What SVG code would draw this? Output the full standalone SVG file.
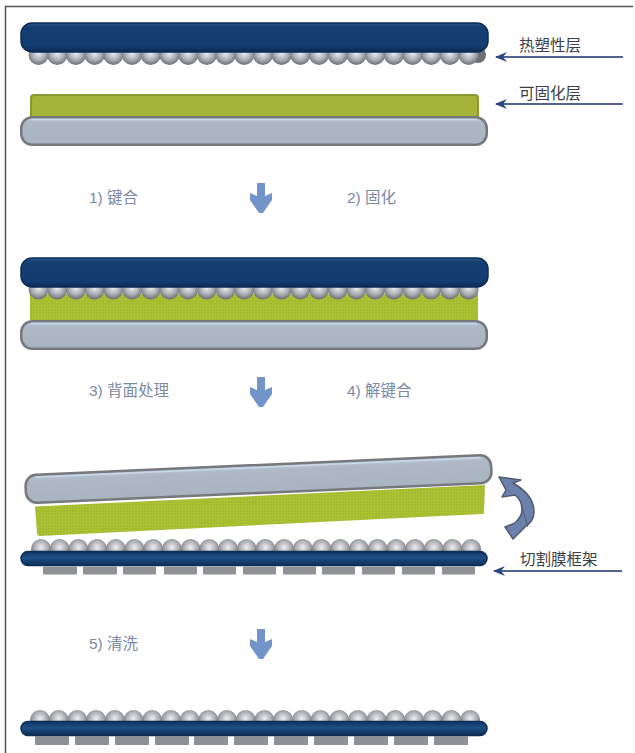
<svg xmlns="http://www.w3.org/2000/svg" width="635" height="753" viewBox="0 0 635 753">
<style>
text{font-family:"Liberation Sans","Noto Sans CJK SC",sans-serif;font-size:15.5px}
.step{fill:#7c89a4}
.lab{fill:#3a4046}
.lead{stroke:#52648f;stroke-width:2;fill:none;marker-start:url(#head)}
.navy{fill:url(#navy);stroke:#0c2d57;stroke-width:1.5}
.thin{fill:url(#navyThin);stroke:#0c2d57;stroke-width:1.5}
.carrier{fill:url(#grey);stroke:#75787d;stroke-width:2.5}
.shine{stroke:#c9d7e6;stroke-width:1.5;fill:none}
.film{fill:url(#speckle)}
.cured{fill:#a2b538;stroke:#8b9a2e;stroke-width:2}
.chip{fill:#8f9196}
</style>
<defs>
<marker id="head" viewBox="0 0 12 10" refX="11" refY="5" markerWidth="12" markerHeight="10" markerUnits="userSpaceOnUse" orient="auto-start-reverse"><path d="M12 5L0 0L4 5L0 10Z" fill="#2a4585"/></marker>
<linearGradient id="navy" x1="0" y1="0" x2="0" y2="1"><stop offset="0" stop-color="#2a5382"/><stop offset=".15" stop-color="#143f73"/><stop offset=".8" stop-color="#133c70"/><stop offset="1" stop-color="#0b2a52"/></linearGradient>
<linearGradient id="navyThin" x1="0" y1="0" x2="0" y2="1"><stop offset="0" stop-color="#0f3361"/><stop offset=".45" stop-color="#1f4f85"/><stop offset="1" stop-color="#0c2d57"/></linearGradient>
<linearGradient id="grey" x1="0" y1="0" x2="0" y2="1"><stop offset="0" stop-color="#bccad8"/><stop offset=".2" stop-color="#aeb9c5"/><stop offset="1" stop-color="#aab4c0"/></linearGradient>
<radialGradient id="ball" cx=".5" cy=".42" r=".6"><stop offset="0" stop-color="#eceff1"/><stop offset=".55" stop-color="#acafb3"/><stop offset="1" stop-color="#66696d"/></radialGradient>
<pattern id="speckle" width="3" height="3" patternUnits="userSpaceOnUse"><rect width="3" height="3" fill="#abc233"/><circle cx="1" cy="1" r=".7" fill="#93a92c"/></pattern>
<circle id="b" r="10" fill="url(#ball)"/>
<g id="row">
<use href="#b" x="0"/><use href="#b" x="18.700"/><use href="#b" x="37.400"/><use href="#b" x="56.100"/><use href="#b" x="74.800"/><use href="#b" x="93.500"/><use href="#b" x="112.200"/><use href="#b" x="130.900"/><use href="#b" x="149.600"/><use href="#b" x="168.300"/><use href="#b" x="187"/><use href="#b" x="205.700"/><use href="#b" x="224.400"/><use href="#b" x="243.100"/><use href="#b" x="261.800"/><use href="#b" x="280.500"/><use href="#b" x="299.200"/><use href="#b" x="317.900"/><use href="#b" x="336.600"/><use href="#b" x="355.300"/><use href="#b" x="374"/><use href="#b" x="392.700"/><use href="#b" x="411.400"/><use href="#b" x="430.100"/>
</g>
<path id="down" d="M-4 -15H4V-2L11 -5V2L2 15H-2L-11 2V-5L-4 -2Z" fill="#7394c8"/>
</defs>
<rect width="635" height="753" fill="#fff"/>
<path d="M633 6.500H5.500V753" fill="none" stroke="#555" stroke-width="1.500"/>

<g id="connectors">
<path class="lead" d="M496 57H623"/>
<path class="lead" d="M496 104H623"/>
<path class="lead" d="M494 571H622"/>
</g>

<g id="stack-thermoplastic">
<circle cx="478" cy="55" r="8" fill="#6d7074"/>
<use href="#row" x="38.500" y="55"/>
<rect class="navy" x="21" y="23" width="467" height="29" rx="11"/>
</g>
<g id="stack-curable">
<rect class="cured" x="31" y="95" width="447" height="24" rx="3"/>
<rect class="carrier" x="21.250" y="117.250" width="465.500" height="27.500" rx="11"/>
<path class="shine" d="M31 119.500H477"/>
</g>
<g id="step-1"><text class="step" x="89" y="203">1) 键合</text></g>
<g id="arrow-1"><use href="#down" x="261" y="198"/></g>
<g id="step-2"><text class="step" x="347" y="203">2) 固化</text></g>

<g id="stack-bonded">
<rect class="film" x="30" y="294" width="448" height="26"/>
<use href="#row" x="38.500" y="289.500"/>
<rect class="navy" x="21" y="258" width="467" height="29" rx="11"/>
<rect class="carrier" x="21.250" y="321.250" width="465.500" height="27.500" rx="11"/>
<path class="shine" d="M31 323.500H477"/>
</g>
<g id="step-3"><text class="step" x="89" y="396">3) 背面处理</text></g>
<g id="arrow-2"><use href="#down" x="261" y="392"/></g>
<g id="step-4"><text class="step" x="347" y="396">4) 解键合</text></g>

<g id="stack-debond">
<path class="film" d="M35 506.500L485 485L484 513Q484 514 482 514L40 536Q37 536 37 533Z"/>
<g transform="rotate(-2.500 258.500 479)">
<rect class="carrier" x="25.500" y="465" width="466" height="28" rx="11"/>
<path class="shine" d="M36 467.500H481"/>
</g>
</g>
<g id="flip-arrow">
<path d="M499 477L521 480L513 483C527 491 534 501 534 512C534 518 531 523 525 527L513 539L505 527L515 523C519 519 522 515 522 510C522 503 519 498 515 495L502 497L506 490Z" fill="#6b80aa" stroke="#4d5a70" stroke-width="1.500" stroke-linejoin="round"/>
<path d="M522 508L528 527" fill="none" stroke="#4d5a70" stroke-width="1"/>
</g>
<g id="stack-frame">
<use href="#row" x="41" y="549"/>
<rect class="thin" x="21" y="551.500" width="466" height="14" rx="7"/>
<path class="chip" d="M43 566.500h34v8h-34zM83 566.500h34v8h-34zM123 566.500h33v8h-33zM164 566.500h33v8h-33zM203 566.500h33v8h-33zM243 566.500h33v8h-33zM283 566.500h33v8h-33zM322 566.500h33v8h-33zM362 566.500h33v8h-33zM402 566.500h33v8h-33zM442 566.500h33v8h-33z"/>
</g>
<g id="step-5"><text class="step" x="89" y="649">5) 清洗</text></g>
<g id="arrow-3"><use href="#down" x="261" y="644"/></g>

<g id="stack-clean">
<use href="#row" x="40" y="720"/>
<rect class="thin" x="21" y="721.500" width="466" height="14" rx="7"/>
<path class="chip" d="M35 736h34v9h-34zM75 736h34v9h-34zM115 736h34v9h-34zM155 736h34v9h-34zM194 736h34v9h-34zM234 736h34v9h-34zM274 736h34v9h-34zM314 736h34v9h-34zM354 736h34v9h-34zM394 736h34v9h-34zM434 736h34v9h-34z"/>
</g>

<g id="label-thermoplastic"><text class="lab" x="519" y="51">热塑性层</text></g>
<g id="label-curable"><text class="lab" x="519" y="99">可固化层</text></g>
<g id="label-frame"><text class="lab" x="520" y="565">切割膜框架</text></g>
</svg>
